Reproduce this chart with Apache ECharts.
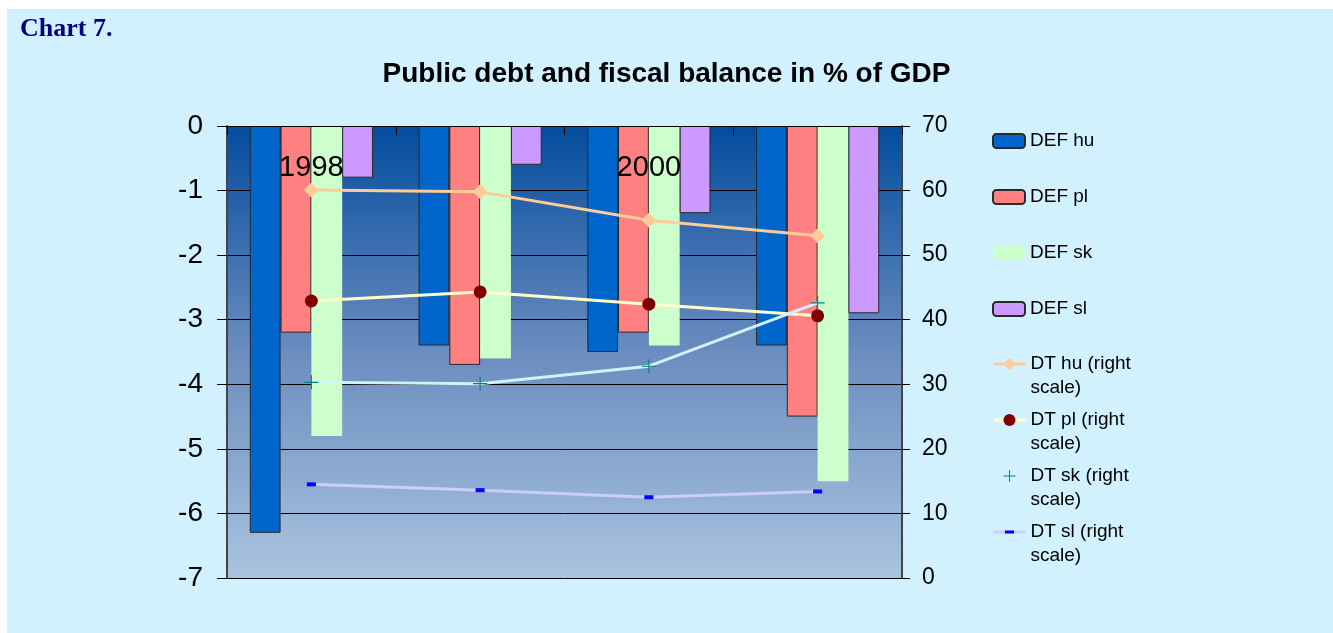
<!DOCTYPE html>
<html>
<head>
<meta charset="utf-8">
<script src="https://cdn.jsdelivr.net/npm/echarts@6/dist/echarts.min.js"></script>
<style>
  html, body { margin: 0; padding: 0; background: #ffffff; }
  #chart { position: absolute; left: 0; top: 0; width: 1333px; height: 633px; }
  .edge { position: absolute; background: #ffffff; z-index: 5; }
</style>
</head>
<body>
<div id="chart"></div>
<div class="edge" style="left:0;top:0;width:1333px;height:9px;"></div>
<div class="edge" style="left:0;top:0;width:7px;height:633px;"></div>
<script>
// Years on the category axis
const years = ['1998', '1999', '2000', '2001'];

// Fiscal balance (DEF), % of GDP, left scale
const defHu = [-6.3, -3.4, -3.5, -3.4];
const defPl = [-3.2, -3.7, -3.2, -4.5];
const defSk = [-4.8, -3.6, -3.4, -5.5];
const defSl = [-0.8, -0.6, -1.35, -2.9];

// Public debt (DT), % of GDP, right scale
const dtHu = [60.1, 59.8, 55.4, 53.0];
const dtPl = [42.9, 44.3, 42.4, 40.6];
const dtSk = [30.3, 30.1, 32.8, 42.6];
const dtSl = [14.5, 13.6, 12.5, 13.4];

const FONT = 'Liberation Sans, Arial, sans-serif';
// thin cross marker
const PLUS = 'path://M8.75,0h1.5v8.75h8.75v1.5h-8.75v8.75h-1.5v-8.75h-8.75v-1.5h8.75z';
// short flat dash inside a square box (the extra moveTo points set the box)
const DASH = 'path://M0,0M12,12M1.5,4.5H10.5V7.5H1.5Z';

const chart = echarts.init(document.getElementById('chart'));

function barSeries(name, data, color, border) {
  return {
    name: name, type: 'bar', yAxisIndex: 0, data: data,
    barGap: 0, barCategoryGap: '27%',
    itemStyle: { color: color, borderColor: border ? '#2a2a2a' : color, borderWidth: border ? 1 : 0 },
    emphasis: { disabled: true }, z: 2
  };
}

function lineSeries(name, data, lineColor, symbol, symbolSize, markColor) {
  return {
    name: name, type: 'line', yAxisIndex: 1, data: data,
    symbol: symbol, symbolSize: symbolSize, showSymbol: true,
    lineStyle: { color: lineColor, width: 3 },
    itemStyle: { color: markColor },
    emphasis: { disabled: true }, z: 5
  };
}

chart.setOption({
  backgroundColor: '#d2f1fe',
  animation: false,
  title: {
    text: 'Public debt and fiscal balance in % of GDP',
    left: 'center', top: 55,
    textStyle: { fontFamily: FONT, fontSize: 28, fontWeight: 'bold', color: '#000000' }
  },
  graphic: [{
    type: 'text', left: 20, top: 16,
    style: {
      text: 'Chart 7.', fill: '#000080',
      font: 'bold 26px "Liberation Serif", "Times New Roman", serif',
      textShadowColor: 'rgba(0,0,0,0.3)', textShadowOffsetX: 1, textShadowOffsetY: 1
    }
  }],
  legend: [{
    orient: 'vertical', left: 992, top: 129, padding: 0,
    itemWidth: 32, itemHeight: 14, itemGap: 32,
    data: ['DEF hu', 'DEF pl', 'DEF sk', 'DEF sl'],
    textStyle: { fontFamily: FONT, fontSize: 19, color: '#000000', lineHeight: 24 },
    selectedMode: false
  }, {
    orient: 'vertical', left: 992, top: 328, padding: 0,
    itemWidth: 32, itemHeight: 15, itemGap: -16,
    data: ['DT hu (right\nscale)', 'DT pl (right\nscale)', 'DT sk (right\nscale)', 'DT sl (right\nscale)'],
    // a blank first line keeps the icon level with the first text line
    formatter: function (name) { return '\u00a0\n' + name; },
    lineStyle: { width: 3 },
    textStyle: { fontFamily: FONT, fontSize: 19, color: '#000000', lineHeight: 24 },
    selectedMode: false
  }],
  grid: {
    left: 227, right: 431, top: 126, bottom: 55,
    show: true, borderWidth: 0,
    backgroundColor: new echarts.graphic.LinearGradient(0, 0, 0, 1, [
      { offset: 0, color: '#034c9d' },
      { offset: 0.5, color: '#6b8dbf' },
      { offset: 1, color: '#aac4df' }
    ])
  },
  xAxis: {
    type: 'category', data: years, position: 'top', z: 10,
    axisLine: { onZero: false, lineStyle: { color: '#000000', width: 1 } },
    axisTick: { show: true, inside: true, interval: 0, length: 9, lineStyle: { color: '#000000' } },
    axisLabel: { inside: true, interval: 1, margin: 27, fontFamily: FONT, fontSize: 29, color: '#000000' },
    splitLine: { show: false }
  },
  yAxis: [{
    type: 'value', min: -7, max: 0, interval: 1, position: 'left',
    axisLine: { show: true, lineStyle: { color: '#444444', width: 2 } },
    axisTick: { show: true, length: 10, lineStyle: { color: '#000000' } },
    axisLabel: { margin: 24, fontFamily: FONT, fontSize: 28, color: '#000000' },
    splitLine: { show: true, lineStyle: { color: '#000000', width: 1 } }
  }, {
    type: 'value', min: 0, max: 70, interval: 10, position: 'right',
    axisLine: { show: true, lineStyle: { color: '#444444', width: 2 } },
    axisTick: { show: true, length: 8, lineStyle: { color: '#000000' } },
    axisLabel: { margin: 20, fontFamily: FONT, fontSize: 23, color: '#000000' },
    splitLine: { show: false }
  }],
  series: [
    barSeries('DEF hu', defHu, '#0066cc', true),
    barSeries('DEF pl', defPl, '#ff8080', true),
    barSeries('DEF sk', defSk, '#ccffcc', false),
    barSeries('DEF sl', defSl, '#cc99ff', true),
    lineSeries('DT hu (right\nscale)', dtHu, '#ffcc99', 'diamond', 15, '#ffcc99'),
    lineSeries('DT pl (right\nscale)', dtPl, '#ffffcc', 'circle', 13, '#800000'),
    lineSeries('DT sk (right\nscale)', dtSk, '#d4f0fc', PLUS, 14, '#008080'),
    lineSeries('DT sl (right\nscale)', dtSl, '#ccccff', DASH, [12, 16], '#0000ff')
  ]
});
</script>
</body>
</html>
